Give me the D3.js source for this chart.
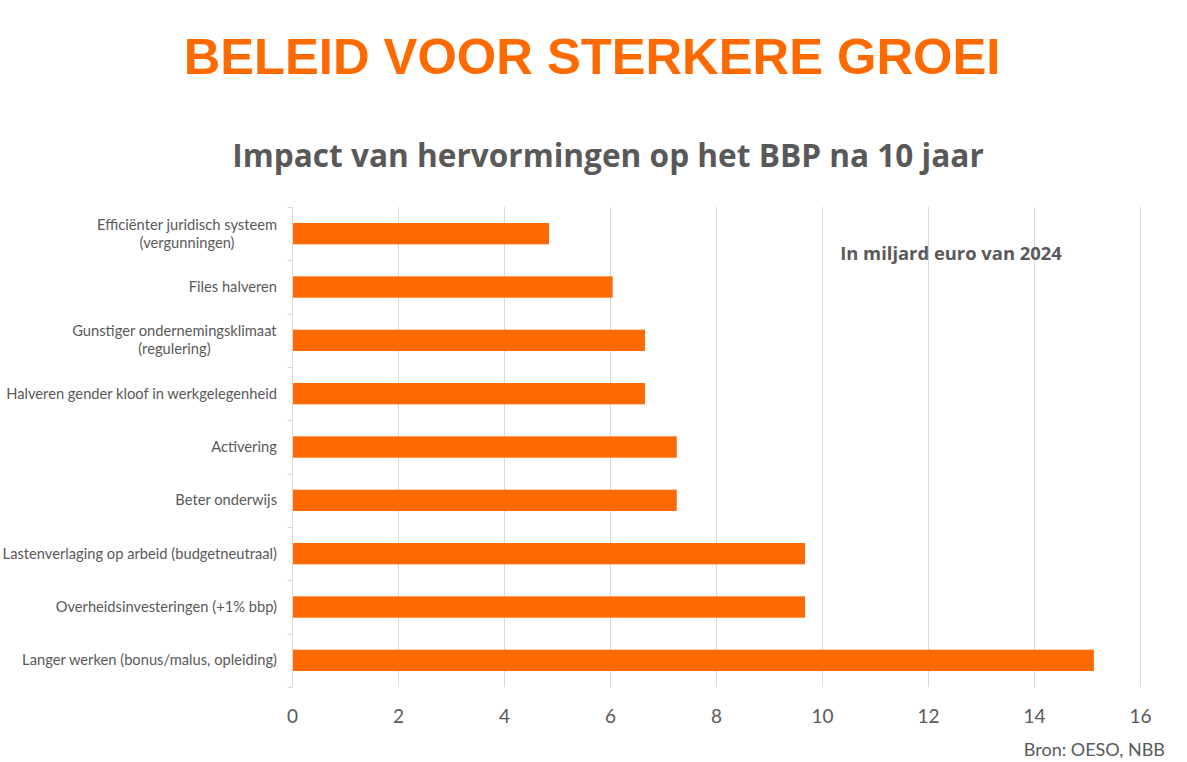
<!DOCTYPE html>
<html><head><meta charset="utf-8">
<script src="https://cdn.jsdelivr.net/npm/d3@7"></script>
<style>body{margin:0;background:#fff}</style>
</head><body>
<svg id="c" width="1187" height="762"></svg>
<script>
const categories = [
  "Efficiënter juridisch systeem|(vergunningen)",
  "Files halveren",
  "Gunstiger ondernemingsklimaat|(regulering)",
  "Halveren gender kloof in werkgelegenheid",
  "Activering",
  "Beter onderwijs",
  "Lastenverlaging op arbeid (budgetneutraal)",
  "Overheidsinvesteringen (+1% bbp)",
  "Langer werken (bonus/malus, opleiding)"
];
const values = [4.84, 6.04, 6.65, 6.65, 7.25, 7.25, 9.67, 9.67, 15.12];
const xTicks = [0, 2, 4, 6, 8, 10, 12, 14, 16];
const title = "BELEID VOOR STERKERE GROEI";
const subtitle = "Impact van hervormingen op het BBP na 10 jaar";
const unitNote = "In miljard euro van 2024";
const source = "Bron: OESO, NBB";

(function () {
const svg = d3.select("#c");
const orange = "#FF6A00", grey = "#595959", grid = "#D9D9D9";
const pL = 292.5, pR = 1140.5, pT = 207, pB = 687;
const x = d3.scaleLinear().domain([0, 16]).range([pL, pR]);
const y = d3.scaleBand().domain(categories).range([pT, pB]).paddingInner(0.6).paddingOuter(0.3);
const yb = d3.scaleBand().domain(categories).range([pT, pB]);

svg.append("text").attr("x", 592).attr("y", 74).attr("text-anchor", "middle")
  .attr("font-family", "Liberation Sans, Arial").attr("font-weight", "bold").attr("font-size", 50.7)
  .attr("fill", orange).text(title);
svg.append("text").attr("x", 608).attr("y", 167).attr("text-anchor", "middle")
  .attr("font-family", "Open Sans").attr("font-weight", "bold").attr("font-size", 31.6)
  .attr("fill", grey).text(subtitle);

svg.append("g").selectAll("line").data(xTicks.slice(1)).join("line")
  .attr("x1", d => x(d)).attr("x2", d => x(d)).attr("y1", pT).attr("y2", pB)
  .attr("stroke", grid).attr("stroke-width", 1);

svg.append("g").selectAll("rect").data(values).join("rect")
  .attr("x", x(0)).attr("y", (d, i) => y(categories[i]))
  .attr("width", d => x(d) - x(0)).attr("height", y.bandwidth())
  .attr("fill", orange);

const ax = svg.append("g");
ax.append("line").attr("x1", pL).attr("x2", pL).attr("y1", pT).attr("y2", pB)
  .attr("stroke", grid).attr("stroke-width", 1);
const sep = categories.map(c => yb(c)).concat([pB]);
ax.selectAll("line.t").data(sep).join("line").attr("class", "t")
  .attr("x1", pL - 5).attr("x2", pL).attr("y1", d => Math.round(d) + 0.5).attr("y2", d => Math.round(d) + 0.5)
  .attr("stroke", grid);

const lab = svg.append("g").attr("font-family", "Lato").attr("font-size", 14.7).attr("fill", grey)
  .attr("text-anchor", "middle");
categories.forEach(c => {
  const lines = c.split("|");
  const cy = yb(c) + yb.bandwidth() / 2;
  const t = lab.append("text").attr("y", cy);
  const lh = 18;
  const n = lines.length;
  lines.forEach((l, j) => {
    t.append("tspan").attr("x", 0).attr("dy", j === 0 ? (-(n - 1) * lh / 2 + 5) : lh).text(l);
  });
  const bb = t.node().getBBox();
  t.attr("transform", `translate(${277 - bb.width / 2},0)`);
});

svg.append("g").selectAll("text").data(xTicks).join("text")
  .attr("x", d => x(d)).attr("y", 723).attr("text-anchor", "middle")
  .attr("font-family", "Lato").attr("font-size", 19).attr("fill", grey).text(d => d);

svg.append("text").attr("x", 951).attr("y", 260).attr("text-anchor", "middle")
  .attr("font-family", "Open Sans").attr("font-weight", "bold").attr("font-size", 18.4)
  .attr("fill", grey).text(unitNote);
svg.append("text").attr("x", 1165).attr("y", 756).attr("text-anchor", "end")
  .attr("font-family", "Lato").attr("font-size", 18).attr("fill", grey).text(source);
})();
</script>
</body></html>
